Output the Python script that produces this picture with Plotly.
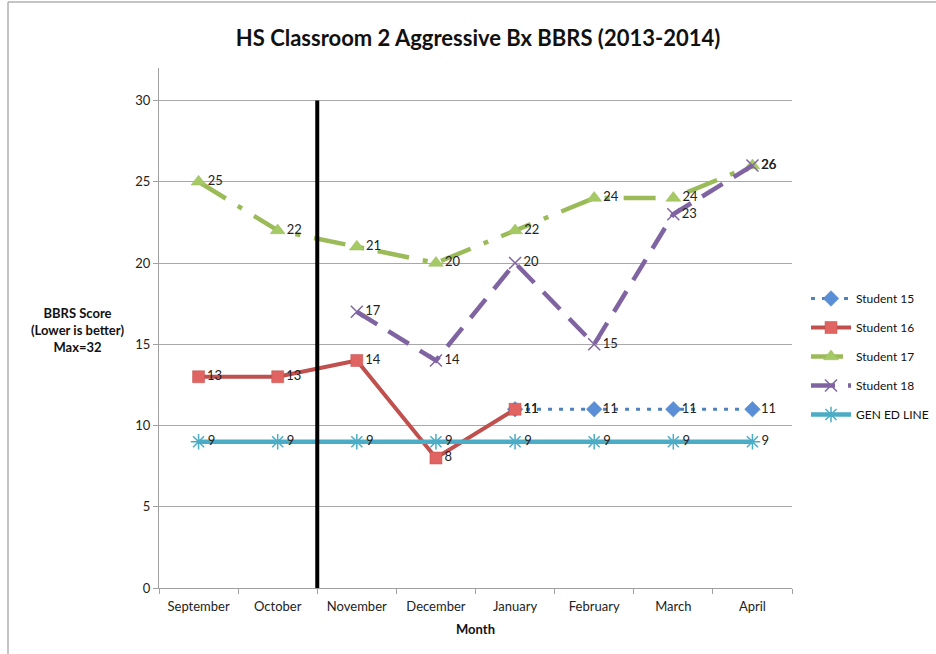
import plotly.graph_objects as go

months = ["September", "October", "November", "December", "January", "February", "March", "April"]

student_15 = [None, None, None, None, 11, 11, 11, 11]
student_16 = [13, 13, 14, 8, 11, None, None, None]
student_17 = [25, 22, 21, 20, 22, 24, 24, 26]
student_18 = [None, None, 17, 14, 20, 15, 23, 26]
gen_ed = [9, 9, 9, 9, 9, 9, 9, 9]

# plot area in pixels: x 159..792, y 68..588
L, R, T, B = 159, 792, 68, 588
W, H = 936, 654
FONT = "Lato, Open Sans, sans-serif"

def lbl(vals):
    return ["" if v is None else str(v) for v in vals]

def px_x(p):
    return (p - L) / (R - L)

def px_y(p):
    return (B - p) / (B - T)

fig = go.Figure()

series = [
    ("Student 15", student_15, "#4F81BD", "4px,7px", 3, "diamond", 12, "#5A8ED6"),
    ("Student 16", student_16, "#C0504D", "solid", 4, "square", 12, "#E06461"),
    ("Student 17", student_17, "#9BBB59", "32px,14px,5px,14px", 4.5, "triangle-up", 13, "#A5C965"),
    ("Student 18", student_18, "#8064A2", "24px,13px", 4.5, "x-thin-open", 12, "#8064A2"),
    ("GEN ED LINE", gen_ed, "#4BACC6", "solid", 4.5, "asterisk-open", 13, "#4BACC6"),
]

for name, vals, col, dash, w, sym, size, mcol in series:
    mline = dict(width=1.5, color=mcol) if "open" in sym else dict(width=0.5, color=col)
    fig.add_trace(go.Scatter(
        x=months, y=vals, name=name, legendgroup=name, mode="lines+markers+text",
        line=dict(color=col, width=w, dash=dash),
        marker=dict(symbol=sym, size=size, color=mcol, line=mline),
        text=lbl(vals), textposition="middle right",
        textfont=dict(family=FONT, size=13, color="#222222"),
        connectgaps=False, cliponaxis=False,
    ))

# vertical divider between October and November
fig.add_shape(type="line", xref="x", yref="y", x0=1.5, x1=1.5, y0=-0.15, y1=30,
              line=dict(color="black", width=4))

# page border on left and top
fig.add_shape(type="line", xref="paper", yref="paper",
              x0=px_x(8), x1=px_x(8), y0=px_y(654), y1=px_y(2),
              line=dict(color="#B0B0B0", width=1.5))
fig.add_shape(type="line", xref="paper", yref="paper",
              x0=px_x(8), x1=px_x(936), y0=px_y(2), y1=px_y(2),
              line=dict(color="#B0B0B0", width=1.5))

# y-axis title, horizontal as in the original
fig.add_annotation(x=px_x(77), y=px_y(330), xref="paper", yref="paper",
                   xanchor="center", yanchor="middle",
                   text="<b>BBRS Score</b><br><b>(Lower is better)</b><br><b>Max=32</b>",
                   showarrow=False, align="center",
                   font=dict(family=FONT, size=13, color="#111111"))

fig.update_layout(
    width=W, height=H,
    margin=dict(l=L, r=W - R, t=T, b=H - B, autoexpand=False),
    paper_bgcolor="white", plot_bgcolor="white",
    title=dict(text="<b>HS Classroom 2 Aggressive Bx BBRS (2013-2014)</b>",
               x=478 / W, xanchor="center", y=1 - 38 / H, yanchor="middle",
               font=dict(family=FONT, size=22, color="#111111")),
    font=dict(family=FONT, size=13, color="#222222"),
    legend=dict(x=px_x(806), xanchor="left", y=px_y(284), yanchor="top",
                font=dict(size=12, color="#111111"), tracegroupgap=10,
                itemwidth=40, bgcolor="rgba(0,0,0,0)"),
    showlegend=True,
)

fig.update_xaxes(type="category", categoryorder="array", categoryarray=months,
                 range=[-0.5, 7.5], tickson="boundaries", ticks="outside", ticklen=5,
                 tickcolor="#A0A0A0", showline=True, linecolor="#A0A0A0", linewidth=1,
                 showgrid=False, tickfont=dict(size=13, color="#222222"),
                 ticklabelstandoff=6,
                 title=dict(text="<b>Month</b>", font=dict(size=13, color="#111111"), standoff=12))
fig.update_yaxes(range=[0, 32], tick0=0, dtick=5, ticks="outside", ticklen=5,
                 tickcolor="#A0A0A0", showline=True, linecolor="#A0A0A0", linewidth=1,
                 showgrid=True, gridcolor="#A8A8A8", gridwidth=1, zeroline=False,
                 tickfont=dict(size=13, color="#222222"))

# drop the default page margin so the figure sits at the window's corner
fig.write_html("out.html", config={"displayModeBar": False},
               post_script="document.body.style.margin='0px';")
